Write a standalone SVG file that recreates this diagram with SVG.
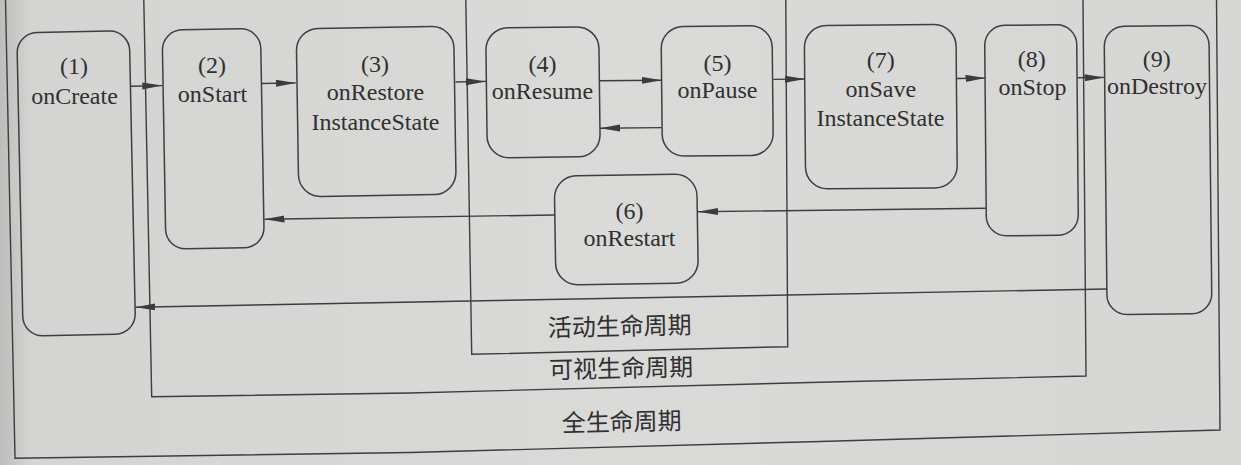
<svg xmlns="http://www.w3.org/2000/svg" width="1241" height="465" viewBox="0 0 1241 465">
  <defs>
    <marker id="arrow" markerUnits="userSpaceOnUse" viewBox="0 0 21 8" markerWidth="21" markerHeight="8" refX="20" refY="3.5" orient="auto">
      <path d="M0,0 L20,3.5 L0,7 z" fill="#3b3b3b"/>
    </marker>
    <linearGradient id="paper" x1="0" y1="0" x2="1" y2="0">
      <stop offset="0" stop-color="#bdbdbb"/>
      <stop offset="0.025" stop-color="#d4d4d2"/>
      <stop offset="0.5" stop-color="#dadad8"/>
      <stop offset="1" stop-color="#d6d6d4"/>
    </linearGradient>
  </defs>
  <style>
    .frame { fill: none; stroke: #3d3d3d; stroke-width: 1.4; }
    .node rect { fill: none; stroke: #3f3f3f; stroke-width: 1.5; }
    .lbl { font-family: "Liberation Serif", "Times New Roman", serif; font-size: 24px; fill: #303030; text-anchor: middle; }
    .zone { font-family: "Noto Sans CJK SC", "Noto Sans", sans-serif; font-size: 24px; fill: #303030; text-anchor: middle; }
    .link { fill: none; stroke: #3d3d3d; stroke-width: 1.4; marker-end: url(#arrow); }
  </style>

  <!-- paper -->
  <rect x="0" y="0" width="1241" height="465" fill="url(#paper)"/>

  <!-- lifetime frames (tops run off the page) -->
  <g id="lifetimes">
    <path id="full-lifetime" class="frame" d="M5.5,0 L15,458.3 L410,452.5 L820,441.5 L1220,430 L1216.5,0"/>
    <path id="visible-lifetime" class="frame" d="M143.8,0 L151.7,396.7 L410,393 L820,382.2 L1086,376 L1083,0"/>
    <path id="active-lifetime" class="frame" d="M465.8,0 L471.7,354.3 L787.7,346.7 L785.8,0"/>
    <text class="zone" x="619.7" y="335" transform="rotate(-1.2 619.7 326)">活动生命周期</text>
    <text class="zone" x="621" y="377" transform="rotate(-1.2 621 368)">可视生命周期</text>
    <text class="zone" x="621.7" y="430.5" transform="rotate(-1.2 621.7 421.7)">全生命周期</text>
  </g>

  <!-- callback nodes -->
  <g id="n1" class="node">
    <rect x="19.95" y="31.75" width="112.5" height="303.3" rx="20" transform="rotate(-1.2 76.2 183.4)"/>
    <text class="lbl" x="74" y="74">(1)</text>
    <text class="lbl" x="74.5" y="103.5">onCreate</text>
  </g>
  <g id="n2" class="node">
    <rect x="164" y="29.3" width="98.4" height="219" rx="20" transform="rotate(-1 213.2 138.8)"/>
    <text class="lbl" x="212" y="73">(2)</text>
    <text class="lbl" x="212.5" y="101.7">onStart</text>
  </g>
  <g id="n3" class="node">
    <rect x="297.45" y="27.5" width="157.5" height="168" rx="22" transform="rotate(-0.9 376.2 111.5)"/>
    <text class="lbl" x="375" y="71.7">(3)</text>
    <text class="lbl" x="375.5" y="100">onRestore</text>
    <text class="lbl" x="375.5" y="130">InstanceState</text>
  </g>
  <g id="n4" class="node">
    <rect x="486.5" y="27.3" width="113" height="130" rx="22" transform="rotate(-0.7 543 92.3)"/>
    <text class="lbl" x="542.5" y="71.5">(4)</text>
    <text class="lbl" x="542.5" y="99.3">onResume</text>
  </g>
  <g id="n5" class="node">
    <rect x="661.7" y="26.05" width="111" height="129.7" rx="22" transform="rotate(-0.6 717.2 90.9)"/>
    <text class="lbl" x="717.5" y="70.7">(5)</text>
    <text class="lbl" x="717.5" y="97.7">onPause</text>
  </g>
  <g id="n6" class="node">
    <rect x="555.05" y="175" width="142.5" height="109" rx="22" transform="rotate(-0.9 626.3 229.5)"/>
    <text class="lbl" x="629.5" y="219.3">(6)</text>
    <text class="lbl" x="629.5" y="246">onRestart</text>
  </g>
  <g id="n7" class="node">
    <rect x="804.95" y="25.05" width="151.7" height="163.3" rx="22" transform="rotate(-0.5 880.8 106.7)"/>
    <text class="lbl" x="880.8" y="68.3">(7)</text>
    <text class="lbl" x="880.8" y="96.7">onSave</text>
    <text class="lbl" x="880.5" y="126">InstanceState</text>
  </g>
  <g id="n8" class="node">
    <rect x="985.5" y="25.05" width="92" height="210.5" rx="20" transform="rotate(-0.5 1031.5 130.3)"/>
    <text class="lbl" x="1031.7" y="66.7">(8)</text>
    <text class="lbl" x="1032.5" y="95">onStop</text>
  </g>
  <g id="n9" class="node">
    <rect x="1105.6" y="25.85" width="104.8" height="288.3" rx="20" transform="rotate(-0.6 1158 170)"/>
    <text class="lbl" x="1156.7" y="66.7">(9)</text>
    <text class="lbl" x="1157" y="94.3">onDestroy</text>
  </g>

  <!-- transitions -->
  <g id="connectors">
    <path class="link" d="M130.7,86.2 L162.3,85.6"/>
    <path class="link" d="M261.7,83.5 L295.8,82.9"/>
    <path class="link" d="M455.5,82 L486,81.4"/>
    <path class="link" d="M599.5,80.8 L661.7,80.2"/>
    <path class="link" d="M661.7,127.6 L600,128.2"/>
    <path class="link" d="M773.3,79.4 L805,79"/>
    <path class="link" d="M957,78.5 L985.5,78.1"/>
    <path class="link" d="M1077.7,77.8 L1104.5,77.4"/>
    <path class="link" d="M985.7,208.3 L698,211.7"/>
    <path class="link" d="M555,215 L264.5,219.3"/>
    <path class="link" d="M1106.8,289 L135.3,307.3"/>
  </g>
</svg>
